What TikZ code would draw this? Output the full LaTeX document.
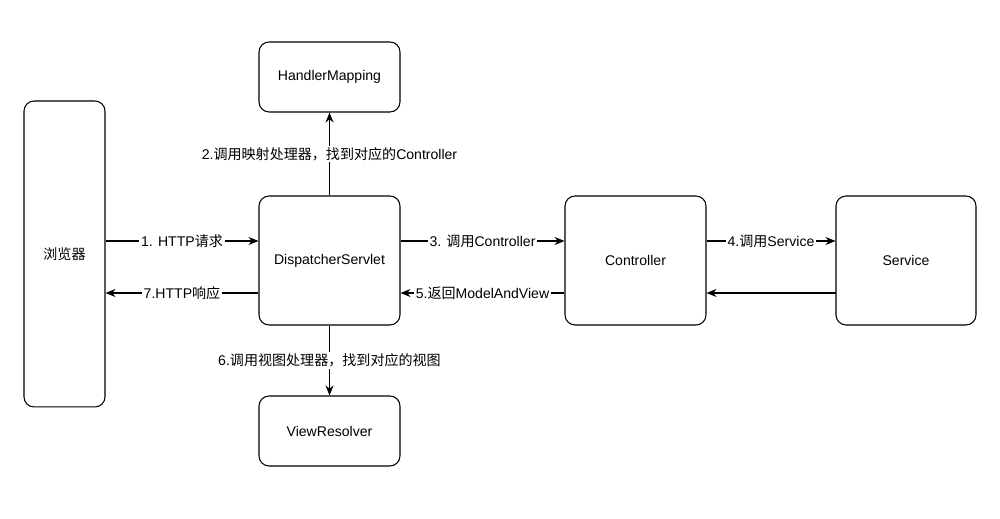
\documentclass[tikz,border=0pt]{standalone}
\usepackage{fontspec}
\setmainfont{Liberation Sans}
\newfontfamily\cjk{Noto Sans CJK SC}
\usetikzlibrary{arrows.meta}

\tikzset{
  box/.style={draw, rounded corners=0.2cm, line width=0.6pt, minimum width=2.82cm, minimum height=1.4cm},
  flow/.style={line width=0.6pt, -{Stealth[length=2mm,width=1.6mm]}},
  lbl/.style={fill=white, inner sep=1pt}
}

\begin{document}
\begin{tikzpicture}[x=0.02cm, y=-0.02cm, font=\fontsize{8}{9.6}\selectfont]
\useasboundingbox (0,0) rectangle (1000,519);

\node[box, minimum width=1.62cm, minimum height=6.12cm] (browser) at (64.5,254) {{\cjk 浏览器}};
\node[box] (mapping) at (329.5,77) {HandlerMapping};
\node[box, minimum height=2.58cm] (dispatcher) at (329.5,260.5) {DispatcherServlet};
\node[box] (resolver) at (329.5,431) {ViewResolver};
\node[box, minimum height=2.58cm] (controller) at (635.5,260.5) {Controller};
\node[box, minimum width=2.8cm, minimum height=2.58cm] (service) at (906,260.5) {Service};

% rows of the horizontal arrows
\coordinate (go) at (0,241);
\coordinate (back) at (0,293);

\foreach \a/\b/\y/\t in {browser.east/dispatcher.west/go/{1. HTTP{\cjk 请求}},
            dispatcher.east/controller.west/go/{3. {\cjk 调用}Controller},
            controller.east/service.west/go/{4.{\cjk 调用}Service},
            dispatcher.west/browser.east/back/{7.HTTP{\cjk 响应}},
            controller.west/dispatcher.east/back/{5.{\cjk 返回}ModelAndView}}
    \draw[flow] (\a |- \y) -- node[lbl]{\t} (\b |- \y);

\draw[flow] (service.west |- back) -- (controller.east |- back);
\draw[flow] (dispatcher) -- node[lbl]{2.{\cjk 调用映射处理器，找到对应的}Controller} (mapping);
\draw[flow] (dispatcher) -- node[lbl]{6.{\cjk 调用视图处理器，找到对应的视图}} (resolver);

\end{tikzpicture}
\end{document}
